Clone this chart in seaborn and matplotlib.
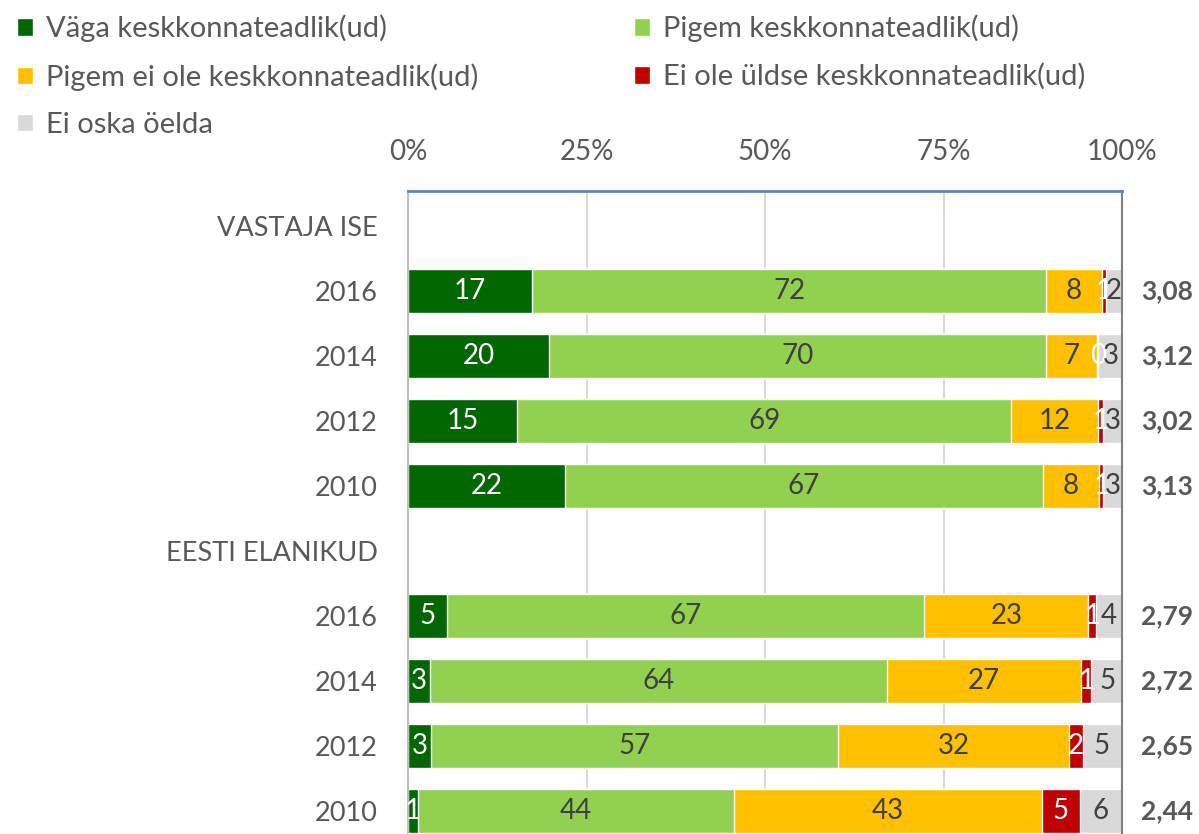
import numpy as np
import pandas as pd
import matplotlib
matplotlib.use("Agg")
import matplotlib.pyplot as plt
import matplotlib.transforms as mtransforms
from matplotlib.patches import Patch
import seaborn as sns

# rows top to bottom; header rows have no data
rows = ["VASTAJA ISE", "2016", "2014", "2012", "2010",
        "EESTI ELANIKUD", "2016", "2014", "2012", "2010"]
series = ["Väga keskkonnateadlik(ud)", "Pigem keskkonnateadlik(ud)",
          "Pigem ei ole keskkonnateadlik(ud)", "Ei ole üldse keskkonnateadlik(ud)",
          "Ei oska öelda"]
colors = ["#006600", "#92D050", "#FFC000", "#C00000", "#D9D9D9"]
label_colors = ["white", "#404040", "#404040", "white", "#404040"]

vaga = [None, 17.4, 19.8, 15.3, 22.0, None, 5.4, 3.1, 3.2, 1.4]
pigem = [None, 72.0, 69.6, 69.2, 66.9, None, 66.9, 64.0, 57.0, 44.2]
pigem_ei = [None, 7.8, 7.1, 12.1, 7.9, None, 23.0, 27.2, 32.4, 43.2]
uldse_ei = [None, 0.6, 0.2, 0.8, 0.6, None, 1.1, 1.4, 1.9, 5.3]
ei_oska = [None, 2.2, 3.4, 2.6, 2.6, None, 3.6, 4.6, 5.3, 5.9]
means = ["", "3,08", "3,12", "3,02", "3,13", "", "2,79", "2,72", "2,65", "2,44"]

sns.set_style("white")
plt.rcParams["font.family"] = ["Lato", "DejaVu Sans"]

keys = [f"r{i}" for i in range(len(rows))]
df = pd.DataFrame({"key": keys, series[0]: vaga, series[1]: pigem, series[2]: pigem_ei,
                   series[3]: uldse_ei, series[4]: ei_oska}).dropna()
cum = df[series].cumsum(axis=1)

fig = plt.figure(figsize=(11.99, 8.34), dpi=100)
ax = fig.add_axes([408 / 1199, 0.0, 714 / 1199, 1 - 191 / 834])

# draw cumulative bars from the longest so shorter ones sit on top
for s, c in reversed(list(zip(series, colors))):
    sns.barplot(x=cum[s], y=df["key"], order=keys, orient="h", color=c,
                width=0.68, saturation=1, ax=ax, zorder=2)

# segment labels
pos = {k: i for i, k in enumerate(keys)}
for s, lc in zip(series, label_colors):
    for k, v, end in zip(df["key"], df[s], cum[s]):
        ax.text(end - v / 2, pos[k], f"{round(v):d}", ha="center", va="center",
                color=lc, fontsize=20, zorder=3)

# mean scores on the right
trans = mtransforms.blended_transform_factory(ax.transAxes, ax.transData)
for i, m in enumerate(means):
    ax.text(1.027, i, m, transform=trans, ha="left", va="center",
            fontsize=19, fontweight="bold", color="#595959")

ax.set_xlim(0, 100)
ax.set_ylim(9.35, -0.54)
ax.set_xticks([0, 25, 50, 75, 100])
ax.set_xticklabels(["0%", "25%", "50%", "75%", "100%"])
ax.set_yticks(range(len(rows)))
ax.set_yticklabels(rows)
ax.xaxis.tick_top()
ax.tick_params(axis="x", length=0, pad=19, labelsize=20, labelcolor="#595959")
ax.tick_params(axis="y", length=0, pad=22, labelsize=19.5, labelcolor="#595959")
ax.set_xlabel("")
ax.set_ylabel("")
ax.xaxis.grid(True, color="#D9D9D9", linewidth=1.5, zorder=0)
ax.set_axisbelow(True)
ax.spines["top"].set_color("#5B87C0")
ax.spines["top"].set_linewidth(2)
ax.spines["left"].set_color("#BFBFBF")
ax.spines["left"].set_linewidth(1.5)
ax.spines["right"].set_color("#808080")
ax.spines["right"].set_linewidth(1.5)
ax.spines["bottom"].set_visible(False)

order = [0, 2, 4, 1, 3]
handles = [Patch(facecolor=colors[i], label=series[i]) for i in order]
fig.legend(handles=handles, ncol=2, loc="upper left", bbox_to_anchor=(-0.008, 1.014),
           frameon=False, fontsize=21, labelcolor="#595959", handlelength=0.55,
           handleheight=0.55, handletextpad=0.45, columnspacing=5.35, labelspacing=0.72)

fig.savefig("out.png", dpi=100)
